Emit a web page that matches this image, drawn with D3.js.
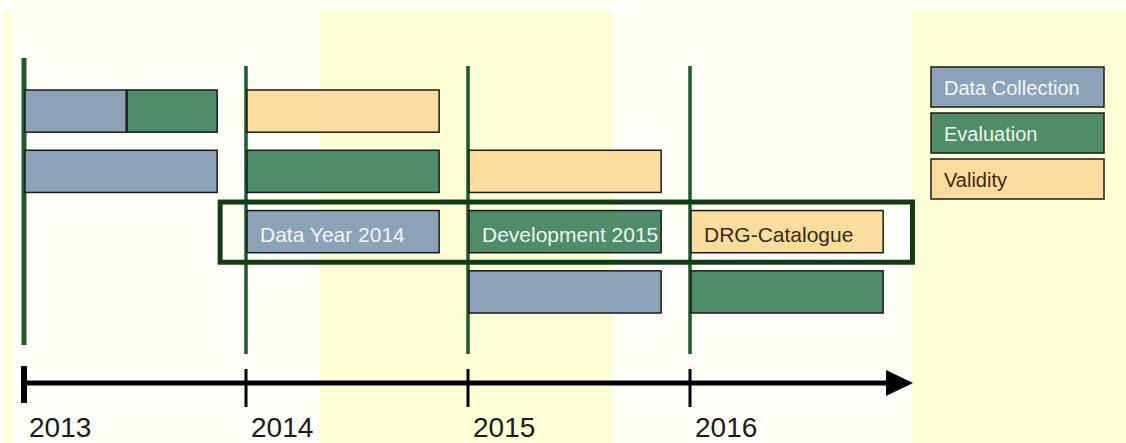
<!DOCTYPE html>
<html lang="en">

<head>
  <meta charset="UTF-8">
  <title>DRG timeline</title>
  <script src="https://cdn.jsdelivr.net/npm/d3@7/dist/d3.min.js"></script>
  <style>
    body { margin: 0; background: #fffff8; }
    text { font-family: 'Liberation Sans', Arial, sans-serif; }
  </style>
</head>

<body>
  <svg width="1126" height="443"></svg>
  <script>
    // data
    var years = [2013, 2014, 2015, 2016]
    var phases = ['Data Collection', 'Evaluation', 'Validity']
    var phaseColors = ['#8ba3b9', '#4f8c69', '#fddca0']
    var phaseTextColors = ['#f4f6f8', '#eef6ee', '#3a2a12']

    // bars: phase, row, start, end (in years), label
    var barPhase = ['Data Collection', 'Evaluation', 'Validity',
      'Data Collection', 'Evaluation', 'Validity',
      'Data Collection', 'Evaluation', 'Validity',
      'Data Collection', 'Evaluation']
    var barRow = [0, 0, 0, 1, 1, 1, 2, 2, 2, 3, 3]
    var barStart = [2013, 2013.46, 2014, 2013, 2014, 2015, 2014, 2015, 2016, 2015, 2016]
    var barEnd = [2013.46, 2013.87, 2014.87, 2013.87, 2014.87, 2015.87, 2014.87, 2015.87, 2016.87, 2015.87, 2016.87]
    var barLabel = ['', '', '', '', '', '', 'Data Year 2014', 'Development 2015', 'DRG-Catalogue', '', '']
    var highlightRow = 2

    var bars = barPhase.map((p, i) => ({
      phase: p, row: barRow[i], start: barStart[i], end: barEnd[i], label: barLabel[i]
    }))

    var svg = d3.select('svg')

    var x = d3.scaleLinear().domain([2013, 2016]).range([24, 690])
    var y = d3.scaleBand().domain([0, 1, 2, 3]).range([90, 313]).paddingInner(0.3)
    var color = d3.scaleOrdinal().domain(phases).range(phaseColors)
    var textColor = d3.scaleOrdinal().domain(phases).range(phaseTextColors)

    // background bands
    svg.append('rect').attr('width', 1126).attr('height', 443).attr('fill', '#fffff8')
    var bands = [[4, 13], [320, 613], [912, 1126]]
    svg.selectAll('rect.band')
      .data(bands)
      .enter()
      .append('rect')
      .attr('class', 'band')
      .attr('x', d => d[0])
      .attr('y', 11)
      .attr('width', d => d[1] - d[0])
      .attr('height', 432)
      .attr('fill', '#ffffd6')

    // year lines
    svg.append('g')
      .selectAll('line')
      .data(years)
      .enter()
      .append('line')
      .attr('x1', d => x(d))
      .attr('x2', d => x(d))
      .attr('y1', (d, i) => i === 0 ? 58 : 66)
      .attr('y2', (d, i) => i === 0 ? 345 : 354)
      .attr('stroke', '#1c5a2a')
      .attr('stroke-width', (d, i) => i === 0 ? 5 : 3.5)

    // bars
    var barG = svg.append('g')
      .selectAll('g')
      .data(bars)
      .enter()
      .append('g')

    barG.append('rect')
      .attr('x', d => x(d.start) + 1)
      .attr('y', d => y(d.row))
      .attr('width', d => x(d.end) - x(d.start) - 1)
      .attr('height', y.bandwidth())
      .attr('fill', d => color(d.phase))
      .attr('stroke', '#1a1a1a')
      .attr('stroke-width', 1.5)

    barG.filter(d => d.label)
      .append('text')
      .attr('x', d => x(d.start) + 14)
      .attr('y', d => y(d.row) + 31)
      .attr('font-size', 21)
      .attr('fill', d => textColor(d.phase))
      .text(d => d.label)

    // highlight frame round the labelled row
    svg.append('rect')
      .attr('x', x(2013.87) + 3)
      .attr('y', y(highlightRow) - 8.5)
      .attr('width', 912.5 - x(2013.87) - 3)
      .attr('height', y.bandwidth() + 18)
      .attr('fill', 'none')
      .attr('stroke', '#103c16')
      .attr('stroke-width', 5)

    // timeline axis
    var axisY = 383
    svg.append('line')
      .attr('x1', x(2013)).attr('x2', 890)
      .attr('y1', axisY).attr('y2', axisY)
      .attr('stroke', '#000').attr('stroke-width', 5)
    svg.append('path')
      .attr('d', `M886,${axisY - 13}L913,${axisY}L886,${axisY + 13}Z`)
      .attr('fill', '#000')

    svg.append('g')
      .selectAll('line')
      .data(years)
      .enter()
      .append('line')
      .attr('x1', d => x(d))
      .attr('x2', d => x(d))
      .attr('y1', (d, i) => i === 0 ? 366 : 369)
      .attr('y2', (d, i) => i === 0 ? 403 : 407)
      .attr('stroke', '#000')
      .attr('stroke-width', (d, i) => i === 0 ? 6 : 3)

    svg.append('g')
      .selectAll('text')
      .data(years)
      .enter()
      .append('text')
      .attr('x', d => x(d) + 5)
      .attr('y', 437)
      .attr('font-size', 28)
      .attr('fill', '#1a1a1a')
      .text(d => d)

    // legend
    var legend = svg.append('g')
      .selectAll('g')
      .data(phases)
      .enter()
      .append('g')
      .attr('transform', (d, i) => `translate(931,${67 + i * 46})`)

    legend.append('rect')
      .attr('width', 173)
      .attr('height', 40)
      .attr('fill', d => color(d))
      .attr('stroke', '#1a1a1a')
      .attr('stroke-width', 1.5)

    legend.append('text')
      .attr('x', 13)
      .attr('y', 28)
      .attr('font-size', 20)
      .attr('fill', d => textColor(d))
      .text(d => d)
  </script>
</body>

</html>
